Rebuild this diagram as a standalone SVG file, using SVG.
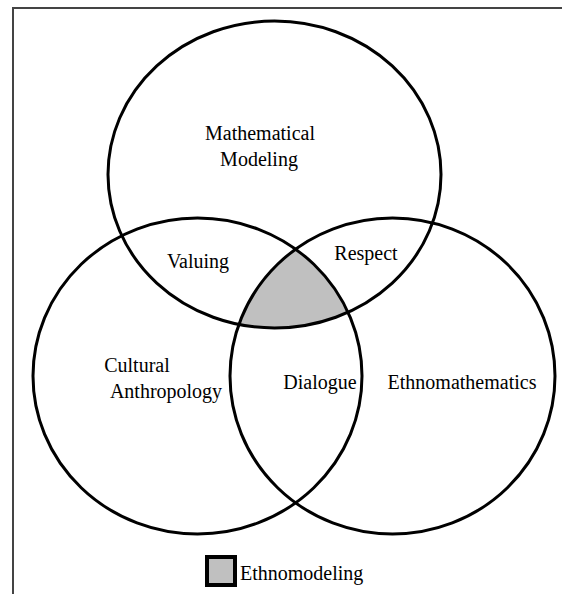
<svg xmlns="http://www.w3.org/2000/svg" width="562" height="594" viewBox="0 0 562 594">
<style>
.c{fill:none;stroke:#000;stroke-width:3}
.t{font-family:"Liberation Serif","Times New Roman",serif;font-size:20px;fill:#000;text-anchor:middle}
</style>
<defs>
<clipPath id="clipL"><ellipse cx="197.5" cy="376" rx="164.5" ry="158"/></clipPath>
<clipPath id="clipR"><ellipse cx="392.5" cy="376" rx="162.5" ry="158"/></clipPath>
</defs>
<rect width="562" height="594" fill="#fff"/>
<g id="frame"><path d="M13,594 V8 H562" fill="none" stroke="#444" stroke-width="2"/></g>
<g id="center-region" clip-path="url(#clipL)"><g clip-path="url(#clipR)"><ellipse cx="274.5" cy="174.5" rx="166.5" ry="153.5" fill="#c0c0c0"/></g></g>
<g id="modeling"><ellipse class="c" cx="274.5" cy="174.5" rx="166.5" ry="153.5"/><text class="t" x="260" y="140">Mathematical</text><text class="t" x="259" y="166">Modeling</text></g>
<g id="anthropology"><ellipse class="c" cx="197.5" cy="376" rx="164.5" ry="158"/><text class="t" x="137" y="372">Cultural</text><text class="t" x="166" y="398">Anthropology</text></g>
<g id="ethnomath"><ellipse class="c" cx="392.5" cy="376" rx="162.5" ry="158"/><text class="t" x="462" y="389">Ethnomathematics</text></g>
<g id="labels"><text class="t" x="198" y="268">Valuing</text><text class="t" x="366" y="260">Respect</text><text class="t" x="320" y="389">Dialogue</text></g>
<g id="legend"><rect x="207" y="557" width="28" height="28" fill="#c0c0c0" stroke="#000" stroke-width="4"/><text class="t" x="240" y="580" style="text-anchor:start">Ethnomodeling</text></g>
</svg>
